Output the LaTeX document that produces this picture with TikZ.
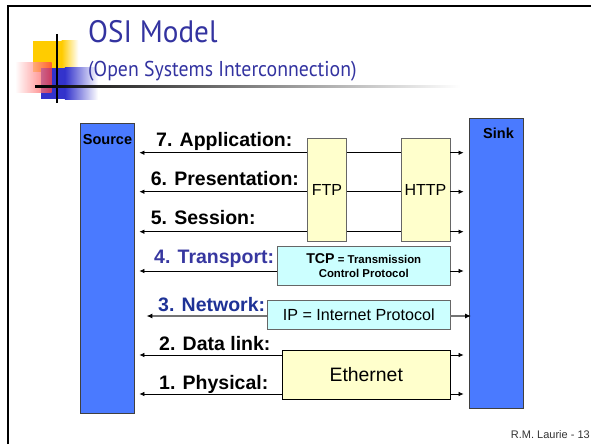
\documentclass[tikz,border=0pt]{standalone}
\usepackage{fontspec}
\setmainfont{Liberation Sans}
\newfontfamily\titlefont{PT Sans}
\usetikzlibrary{arrows.meta}
\definecolor{titleblue}{RGB}{51,51,160}
\definecolor{boxblue}{RGB}{74,122,255}
\definecolor{paleyellow}{RGB}{255,255,204}
\definecolor{palecyan}{RGB}{204,255,255}
\definecolor{transblue}{RGB}{55,55,160}
\definecolor{netblue}{RGB}{30,50,150}
\definecolor{decoyellow}{RGB}{255,204,0}
\definecolor{decored}{RGB}{255,60,60}
\definecolor{decoblue}{RGB}{51,51,204}
\tikzset{
  endbox/.style={draw=black!75, fill=boxblue, line width=0.8pt, inner sep=0pt},
  protobox/.style={draw=black!60, fill=paleyellow, line width=0.8pt, inner sep=0pt, font=\fontsize{16}{18}\selectfont},
  cyanbox/.style={draw=black!60, fill=palecyan, line width=0.8pt, inner sep=0pt},
  layer/.style={anchor=base west, inner sep=0pt, font=\fontsize{19.5}{22}\selectfont\bfseries},
  endlbl/.style={anchor=base, inner sep=0pt, font=\fontsize{14.5}{16}\selectfont\bfseries},
  conn/.style={line width=0.7pt, black},
  arr/.style={conn, -{Latex[length=5pt,width=4.5pt]}},
  iparr/.style={draw=black!55, line width=1.5pt, -{Latex[length=6pt,width=5pt,color=black]}},
}
\begin{document}
\begin{tikzpicture}[x=1pt,y=-1pt]
\useasboundingbox (0,0) rectangle (591,444);
% frame
\draw[line width=2pt] (7.5,444) -- (7.5,6) -- (591,6);
% decoration
\fill[decoyellow] (32.7,41) rectangle (61.7,71.7);
\shade[left color=decoyellow, right color=white] (61.6,41) rectangle (78.3,71.7);
\fill[decoblue] (41,67.7) rectangle (65,99);
\shade[left color=decoblue, right color=white] (64.9,67.7) rectangle (98,99);
\shade[left color=white, right color=decored, opacity=0.75] (15,62.7) rectangle (51.7,92);
\draw[line width=2pt] (56.7,34) -- (56.7,102.7);
\shade[left color=black, middle color=black!50, right color=white] (35,85.7) rectangle (460,87.9);
% title
\node[anchor=base west, inner sep=0pt, text=titleblue, font=\titlefont\fontsize{31}{34}\selectfont] (title) at (88,43) {\scalebox{0.94}[1]{OSI Model}};
\node[anchor=base west, inner sep=0pt, text=titleblue, font=\titlefont\fontsize{21.5}{24}\selectfont] (subtitle) at (88,77) {\scalebox{0.92}[1]{(Open Systems Interconnection)}};
% rows
\coordinate (r7) at (0,152.7);
\coordinate (r6) at (0,191.7);
\coordinate (r5) at (0,231.7);
\coordinate (r4) at (0,271);
\coordinate (r3) at (0,316);
\coordinate (r2) at (0,355);
\coordinate (r1) at (0,394);
% end boxes
\node[endbox, minimum width=53.5pt, minimum height=289.5pt] (src) at (107.25,268.25) {};
\node[endbox, minimum width=54pt, minimum height=289.5pt] (sink) at (496.5,263.25) {};
\node[endlbl] (srclbl) at (107.5,144.3) {Source};
\node[endlbl] (sinklbl) at (498.5,138.3) {Sink};
% protocol boxes
\node[protobox, minimum width=39pt, minimum height=102.5pt] (ftp) at (327,189.75) {FTP};
\node[protobox, minimum width=49pt, minimum height=102.5pt] (http) at (425.5,189.75) {HTTP};
\node[cyanbox, minimum width=172.5pt, minimum height=38.3pt, align=center, font=\fontsize{11.4}{14}\selectfont\bfseries] (tcp) at (363.75,265.85) {{\fontsize{14.2}{14}\selectfont TCP} = Transmission\\Control Protocol};
\node[cyanbox, minimum width=182.5pt, minimum height=28.6pt, font=\fontsize{16.1}{18}\selectfont] (ip) at (358.75,315) {IP = Internet Protocol};
\node[protobox, draw=black, minimum width=167.5pt, minimum height=49pt, font=\fontsize{19.4}{22}\selectfont] (eth) at (366.25,374.5) {Ethernet};
% connectors rows 7-5
\foreach \r in {r7,r6,r5}{
  \draw[arr, shorten >=5pt] (ftp.west |- \r) -- (src.east |- \r);
  \draw[conn] (ftp.east |- \r) -- (http.west |- \r);
  \draw[arr, shorten >=5.5pt] (http.east |- \r) -- (sink.west |- \r);
}
\draw[arr, shorten >=5pt] (tcp.west |- r4) -- (src.east |- r4);
\draw[arr, shorten >=5.5pt] (tcp.east |- r4) -- (sink.west |- r4);
\draw[iparr, shorten >=12pt] (ip.west |- r3) -- (src.east |- r3);
\draw[iparr, shorten >=-2pt] (ip.east |- r3) -- (sink.west |- r3);
\foreach \r in {r2,r1}{
  \draw[arr, shorten >=5pt] (eth.west |- \r) -- (src.east |- \r);
  \draw[arr, shorten >=5.5pt] (eth.east |- \r) -- (sink.west |- \r);
}
% layer labels
\node[layer] (l7) at (156,146) {7. Application:};
\node[layer] (l6) at (150.7,185) {6. Presentation:};
\node[layer] (l5) at (150.7,224) {5. Session:};
\node[layer, text=transblue] (l4) at (154,263) {4. Transport:};
\node[layer, text=netblue] (l3) at (158,311) {3. Network:};
\node[layer] (l2) at (159,350) {2. Data link:};
\node[layer] (l1) at (159,389) {1. Physical:};
% footer
\node[anchor=base east, inner sep=0pt, text=black!80, font=\fontsize{11}{13}\selectfont] (footer) at (590,438) {R.M. Laurie - 13};
\end{tikzpicture}
\end{document}
